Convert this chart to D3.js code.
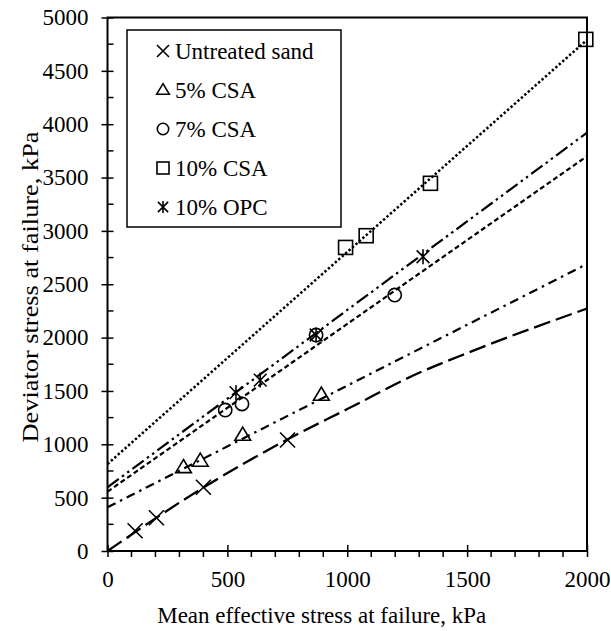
<!DOCTYPE html>
<html>
<head>
<meta charset="utf-8">
<script src="https://cdn.jsdelivr.net/npm/d3@7"></script>
<style>
  body { margin: 0; background: #fff; }
  svg { display: block; }
</style>
</head>
<body>
<svg id="chart" width="611" height="631"></svg>
<script>
// ---- data ----
const seriesNames = ["Untreated sand", "5% CSA", "7% CSA", "10% CSA", "10% OPC"];
const untreated = [[115, 190], [204, 312], [400, 597], [751, 1040]];
const csa5 = [[317, 784], [387, 844], [564, 1087], [892, 1462]];
const csa7 = [[491, 1321], [561, 1378], [870, 2024], [1198, 2399]];
const csa10 = [[993, 2845], [1079, 2955], [1347, 3446], [1995, 4795]];
const opc10 = [[536, 1484], [637, 1602], [870, 2024], [1316, 2758]];
// trend lines
const fitUntreated = [[0, 0], [400, 595], [750, 1045], [1000, 1330], [1300, 1670], [1500, 1855], [2000, 2272]];
const fitCsa5 = [[0, 410], [2000, 2690]];
const fitCsa7 = [[0, 556], [2000, 3700]];
const fitCsa10 = [[0, 815], [2000, 4790]];
const fitOpc10 = [[0, 597], [2000, 3920]];
const xTicks = [0, 500, 1000, 1500, 2000];
const yTicks = [0, 500, 1000, 1500, 2000, 2500, 3000, 3500, 4000, 4500, 5000];

const FONT = "'Liberation Serif', 'Times New Roman', Times, 'DejaVu Serif', serif";
const FS = 23;

// ---- layout ----
const svg = d3.select("#chart").attr("font-family", FONT);
const L = 107.5, R = 587, T = 17.5, B = 551;
const x = d3.scaleLinear().domain([0, 2000]).range([L, R]);
const y = d3.scaleLinear().domain([0, 5000]).range([B, T]);

// minor ticks
const g = svg.append("g");
g.append("g").selectAll("line").data(d3.range(0, 2001, 100).filter(v => v % 500 !== 0))
  .join("line").attr("x1", d => x(d)).attr("x2", d => x(d)).attr("y1", B).attr("y2", B + 6)
  .attr("stroke", "#000").attr("stroke-width", 1.5);
g.append("g").selectAll("line").data(d3.range(250, 5000, 500))
  .join("line").attr("x1", L).attr("x2", L + 6).attr("y1", d => y(d)).attr("y2", d => y(d))
  .attr("stroke", "#000").attr("stroke-width", 1.5);

// axes
const fmt = d3.format("d");
const xAxis = d3.axisBottom(x).tickValues(xTicks).tickFormat(fmt).tickSizeInner(6).tickSizeOuter(0).tickPadding(14);
const yAxis = d3.axisLeft(y).tickValues(yTicks).tickFormat(fmt).tickSizeInner(6).tickSizeOuter(0).tickPadding(13);
const gx = svg.append("g").attr("transform", `translate(0,${B})`).call(xAxis);
const gy = svg.append("g").attr("transform", `translate(${L},0)`).call(yAxis);
[gx, gy].forEach(a => {
  a.attr("font-family", FONT).attr("font-size", FS);
  a.select(".domain").remove();
  a.selectAll(".tick line").attr("stroke", "#000").attr("stroke-width", 1.5);
  a.selectAll(".tick text").attr("fill", "#000");
});
gx.selectAll(".tick line").attr("y1", -6).attr("y2", 6);
gy.selectAll(".tick line").attr("x1", -6).attr("x2", 6);

// frame
svg.append("rect").attr("x", L).attr("y", T).attr("width", R - L).attr("height", B - T)
  .attr("fill", "none").attr("stroke", "#000").attr("stroke-width", 2);

// trend lines
const line = d3.line().x(d => x(d[0])).y(d => y(d[1]));
const curve = d3.line().x(d => x(d[0])).y(d => y(d[1])).curve(d3.curveMonotoneX);
svg.append("clipPath").attr("id", "clip").append("rect")
  .attr("x", L).attr("y", T - 6).attr("width", R - L).attr("height", B - T + 6);
const lines = svg.append("g").attr("clip-path", "url(#clip)");
const lineDefs = [
  { d: fitUntreated, dash: "17,6", gen: curve, w: 2.3 },
  { d: fitCsa5, dash: "9,5,2.5,5", gen: line, w: 2.2 },
  { d: fitCsa7, dash: "5,3", gen: line, w: 2.2 },
  { d: fitCsa10, dash: "2.4,2.2", gen: line, w: 2.5 },
  { d: fitOpc10, dash: "14,4,2.5,4,2.5,4", gen: line, w: 2.2 }
];
lineDefs.forEach(l => {
  lines.append("path").attr("d", l.gen(l.d)).attr("fill", "none")
    .attr("stroke", "#000").attr("stroke-width", l.w).attr("stroke-dasharray", l.dash);
});

// markers
function drawMarker(sel, type, cx, cy, s) {
  const st = { stroke: "#000", "stroke-width": 1.6, fill: "none" };
  const apply = el => { Object.entries(st).forEach(([k, v]) => el.attr(k, v)); return el; };
  if (type === "x") {
    apply(sel.append("path").attr("d", `M${cx - s},${cy - s}L${cx + s},${cy + s}M${cx - s},${cy + s}L${cx + s},${cy - s}`));
  } else if (type === "tri") {
    const h = s * 1.75;
    apply(sel.append("path").attr("d", `M${cx},${cy - h * 0.6}L${cx + s * 1.05},${cy + h * 0.4}L${cx - s * 1.05},${cy + h * 0.4}Z`));
  } else if (type === "circle") {
    apply(sel.append("circle").attr("cx", cx).attr("cy", cy).attr("r", s * 0.95));
  } else if (type === "square") {
    apply(sel.append("rect").attr("x", cx - s).attr("y", cy - s).attr("width", 2 * s).attr("height", 2 * s));
  } else if (type === "star") {
    const a = s * 0.85;
    apply(sel.append("path").attr("d", `M${cx - a},${cy - a}L${cx + a},${cy + a}M${cx - a},${cy + a}L${cx + a},${cy - a}M${cx},${cy - s}L${cx},${cy + s}`));
  }
}
const seriesDefs = [
  { data: untreated, type: "x", s: 7.5 },
  { data: csa5, type: "tri", s: 7.5 },
  { data: csa7, type: "circle", s: 7 },
  { data: csa10, type: "square", s: 7 },
  { data: opc10, type: "star", s: 7.5 }
];
const marks = svg.append("g");
seriesDefs.forEach(sd => sd.data.forEach(d => drawMarker(marks, sd.type, x(d[0]), y(d[1]), sd.s)));

// legend
const leg = svg.append("g");
leg.append("rect").attr("x", 127).attr("y", 30).attr("width", 214).attr("height", 197)
  .attr("fill", "#fff").attr("stroke", "#000").attr("stroke-width", 1.5);
seriesNames.forEach((name, i) => {
  const cy = 51 + i * 39;
  drawMarker(leg, seriesDefs[i].type, 163, cy, 6);
  leg.append("text").attr("x", 175).attr("y", cy + 7.5).attr("font-size", FS)
    .attr("font-family", FONT).attr("fill", "#000").text(name);
});

// axis titles
svg.append("text").attr("x", (L + R) / 2 - 25.5).attr("y", 623)
  .attr("font-size", FS).attr("font-family", FONT).attr("fill", "#000")
  .attr("text-anchor", "middle")
  .text("Mean effective stress at failure, kPa");
svg.append("text").attr("transform", `translate(38,287) rotate(-90)`).attr("text-anchor", "middle")
  .attr("font-size", FS).attr("font-family", FONT).attr("fill", "#000")
  .attr("textLength", 311).attr("lengthAdjust", "spacingAndGlyphs")
  .text("Deviator stress at failure, kPa");
</script>
</body>
</html>
